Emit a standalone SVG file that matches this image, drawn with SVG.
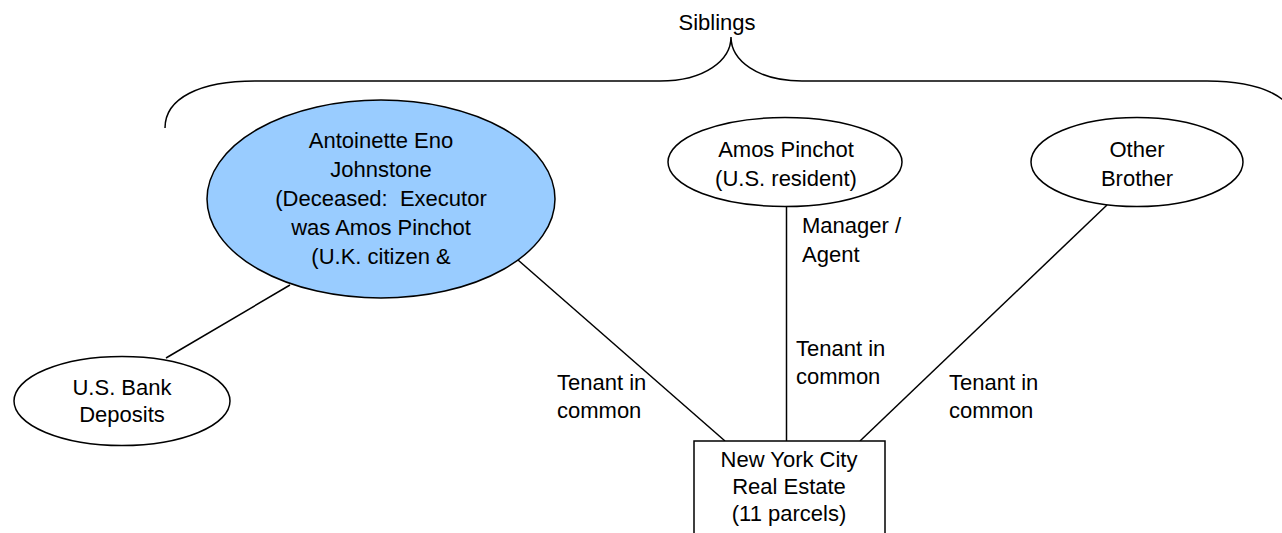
<svg xmlns="http://www.w3.org/2000/svg" width="1282" height="533" viewBox="0 0 1282 533">
<style>
text{font-family:"Liberation Sans",Arial,sans-serif;font-size:22px;fill:#000}
.c{text-anchor:middle}
.n{stroke:#000;stroke-width:1.5}
.w{fill:#fff}
.b{fill:#99ccff}
.l{stroke:#000;stroke-width:1.5;fill:none}
</style>
<rect width="1282" height="533" fill="#fff"/>
<g id="brace">
<path class="l" d="M165,128 C165,98 200,81 255,81 L660,81 C705,81 731,60 731,37 C731,60 757,81 802,81 L1207,81 C1262,81 1297,98 1297,128"/>
<text class="c" x="717" y="30">Siblings</text>
</g>
<g id="connectors">
<line class="l" x1="290" y1="285" x2="166" y2="358"/>
<line class="l" x1="518" y1="260" x2="725" y2="441"/>
<line class="l" x1="786.5" y1="207" x2="786.5" y2="441"/>
<line class="l" x1="1107" y1="205" x2="860" y2="441"/>
<text x="557" y="390">Tenant in</text>
<text x="557" y="418">common</text>
<text x="802" y="233">Manager /</text>
<text x="802" y="262">Agent</text>
<text x="796" y="356">Tenant in</text>
<text x="796" y="384">common</text>
<text x="949" y="390">Tenant in</text>
<text x="949" y="418">common</text>
</g>
<g id="antoinette">
<ellipse class="n b" cx="381" cy="199" rx="174" ry="99"/>
<text class="c" x="381" y="148">Antoinette Eno</text>
<text class="c" x="381" y="177">Johnstone</text>
<text class="c" x="381" y="206" xml:space="preserve">(Deceased:  Executor</text>
<text class="c" x="381" y="235">was Amos Pinchot</text>
<text class="c" x="381" y="264">(U.K. citizen &amp;</text>
</g>
<g id="amos">
<ellipse class="n w" cx="785" cy="162" rx="117" ry="44.5"/>
<text class="c" x="786" y="157">Amos Pinchot</text>
<text class="c" x="786" y="186">(U.S. resident)</text>
</g>
<g id="brother">
<ellipse class="n w" cx="1137" cy="162" rx="106" ry="44.5"/>
<text class="c" x="1137" y="157">Other</text>
<text class="c" x="1137" y="186">Brother</text>
</g>
<g id="bank">
<ellipse class="n w" cx="122" cy="401" rx="108" ry="44.5"/>
<text class="c" x="122" y="395">U.S. Bank</text>
<text class="c" x="122" y="422">Deposits</text>
</g>
<g id="realestate">
<rect class="n w" x="694" y="441" width="191" height="110"/>
<text class="c" x="789" y="467">New York City</text>
<text class="c" x="789" y="494">Real Estate</text>
<text class="c" x="789" y="521">(11 parcels)</text>
</g>
</svg>
